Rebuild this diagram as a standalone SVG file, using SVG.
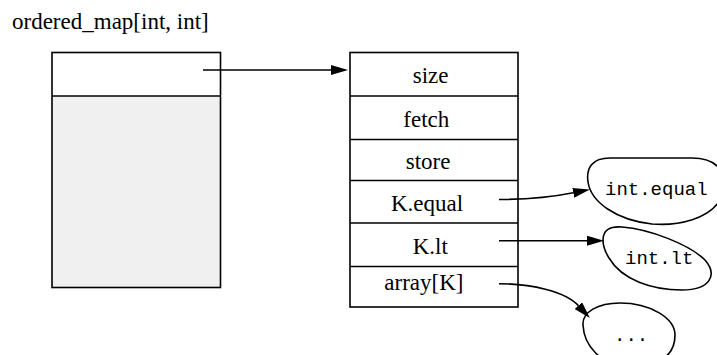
<svg xmlns="http://www.w3.org/2000/svg" width="717" height="355" viewBox="0 0 717 355">
  <style>
    .box { fill: none; stroke: #000; stroke-width: 1.6; }
    .div { stroke: #000; stroke-width: 1.6; }
    .lbl { font-family: "Liberation Serif", "Times New Roman", serif; font-size: 23px; fill: #000; }
    .mono { font-family: "Liberation Mono", "Courier New", monospace; font-size: 19px; fill: #000; }
    .edge { fill: none; stroke: #000; stroke-width: 1.6; }
    .blob { fill: none; stroke: #000; stroke-width: 1.6; }
  </style>
  <defs>
    <marker id="arrow" viewBox="0 0 17 10" refX="0" refY="5" markerWidth="17" markerHeight="10" markerUnits="userSpaceOnUse" orient="auto">
      <polygon points="0,0 17,5 0,10" fill="#000"/>
    </marker>
  </defs>
  <rect width="717" height="355" fill="#fff"/>

  <text class="lbl" x="12" y="29">ordered_map[int, int]</text>

  <!-- map header record -->
  <g id="map">
    <rect x="52" y="96" width="168.5" height="191.5" fill="#f0f0f0"/>
    <rect class="box" x="52" y="52.5" width="168.5" height="235"/>
    <line class="div" x1="52" y1="96" x2="220.5" y2="96"/>
  </g>

  <!-- vtable record -->
  <g id="vtable">
    <rect class="box" x="350" y="52.5" width="168" height="254.5" fill="#fff"/>
    <line class="div" x1="350" y1="96" x2="518" y2="96"/>
    <line class="div" x1="350" y1="139.5" x2="518" y2="139.5"/>
    <line class="div" x1="350" y1="180.5" x2="518" y2="180.5"/>
    <line class="div" x1="350" y1="223" x2="518" y2="223"/>
    <line class="div" x1="350" y1="266.5" x2="518" y2="266.5"/>
    <text class="lbl" x="412.7" y="83">size</text>
    <text class="lbl" x="403.3" y="127">fetch</text>
    <text class="lbl" x="405.7" y="169">store</text>
    <text class="lbl" x="391" y="210.5">K.equal</text>
    <text class="lbl" x="412.7" y="254">K.lt</text>
    <text class="lbl" x="384.3" y="289.5">array[K]</text>
  </g>

  <g id="int_equal">
    <path class="blob" d="M588,182 C586,168 592,158 610,158 L692,158 C716,158 730,172 722,196 C712,220 676,226 652,224 C616,220 591,202 588,182 Z"/>
    <text class="mono" x="605" y="195">int.equal</text>
  </g>

  <g id="int_lt">
    <path class="blob" d="M603,240 C603,230 610,226 622,227 C650,229 690,245 705,260 C718,275 710,290 682,290 C652,290 622,280 609,258 C604,250 603,245 603,240 Z"/>
    <text class="mono" x="625" y="264.3">int.lt</text>
  </g>

  <g id="rest">
    <path class="blob" d="M583,325 C582,312 598,303 620,303 C650,303 675,318 675,335 C675,355 660,366 630,366 C600,366 584,345 583,325 Z"/>
    <text class="mono" x="614" y="341">...</text>
  </g>

  <!-- connectors -->
  <g id="edges">
    <path class="edge" d="M203,70 L331,70" marker-end="url(#arrow)"/>
    <path class="edge" d="M499,199.5 C530,199.5 550,197.5 573.2,192.8" marker-end="url(#arrow)"/>
    <path class="edge" d="M499,240.7 L587,240.7" marker-end="url(#arrow)"/>
    <path class="edge" d="M499,283.7 C530,283.7 565,291 578.4,305.6" marker-end="url(#arrow)"/>
  </g>
</svg>
